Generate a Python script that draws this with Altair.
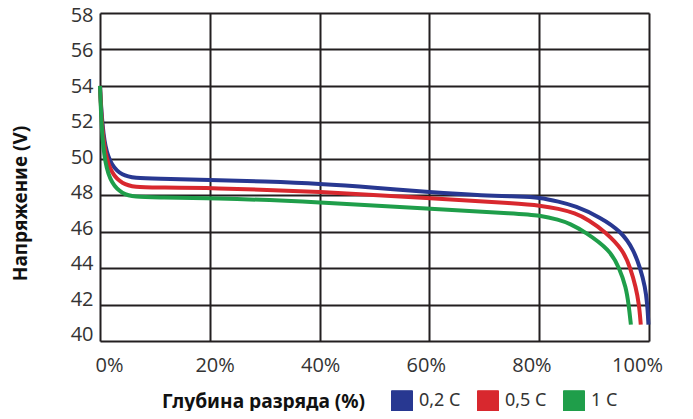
import altair as alt
import pandas as pd

series_names = ["0,2 C", "0,5 C", "1 C"]
series_colors = ["#283891", "#d8282e", "#1f9e4a"]

blue_x = [0, 0.3, 0.9, 2.1, 4, 6.4, 10, 20, 30, 40, 50, 60, 70, 76.5, 80, 83.6, 86.5, 91.1, 95.0, 97.2, 98.4, 99.3, 99.7, 99.9]
blue_y = [54, 52.3, 50.6, 49.63, 49.08, 48.94, 48.9, 48.85, 48.75, 48.63, 48.42, 48.17, 47.98, 47.93, 47.88, 47.65, 47.42, 46.8, 46.0, 45.0, 44.0, 42.97, 42.0, 40.9]

red_x = [0, 0.3, 0.9, 2.1, 4, 6.4, 10, 20, 40, 60, 76.5, 80, 83.6, 86.5, 89.0, 92.0, 95.3, 96.6, 97.6, 98.2, 98.5]
red_y = [54, 52.0, 50.27, 49.18, 48.63, 48.44, 48.42, 48.4, 48.2, 47.84, 47.53, 47.44, 47.26, 47.02, 46.65, 46.0, 45.0, 44.0, 42.97, 42.0, 40.9]

green_x = [0, 0.3, 0.9, 2.1, 4, 6.4, 10, 20, 40, 60, 76.5, 80, 83.6, 85.6, 88.3, 92.9, 94.6, 95.8, 96.3, 96.7]
green_y = [54, 51.55, 49.72, 48.63, 48.08, 47.9, 47.88, 47.86, 47.62, 47.26, 46.98, 46.9, 46.66, 46.44, 46.0, 45.0, 44.0, 42.97, 42.0, 40.9]

x_ticks = [0, 20, 40, 60, 80, 100]
y_ticks = [40, 42, 44, 46, 48, 50, 52, 54, 56, 58]

rows = []
for name, xs, ys in zip(series_names, [blue_x, red_x, green_x], [blue_y, red_y, green_y]):
    for i, (a, b) in enumerate(zip(xs, ys)):
        rows.append({"series": name, "dod": a, "v": b, "order": i})
df = pd.DataFrame(rows)

x_enc = alt.X("dod:Q", scale=alt.Scale(domain=[0, 100], nice=False),
              axis=alt.Axis(values=x_ticks, labelExpr="datum.value + '%'", title=None,
                            grid=True, gridColor="#231f20", gridWidth=2, domain=False, ticks=False,
                            labelFontSize=20, labelFont="Open Sans", labelColor="#333",
                            labelFlush=False, labelBound=False,
                            labelPadding=14, labelOffset={"expr": "9 - 0.21*datum.value"}))
y_enc = alt.Y("v:Q", scale=alt.Scale(domain=[40, 58], nice=False),
              axis=alt.Axis(values=y_ticks, title="Напряжение (V)", grid=True,
                            gridColor="#231f20", gridWidth=2, domain=False, ticks=False,
                            labelFontSize=20, labelFont="Open Sans", labelColor="#333",
                            labelFlush=False, labelBound=False,
                            labelPadding=7, labelOffset={"expr": "2 - (58 - datum.value)*0.45"},
                            titleFont="Noto Sans", titleFontSize=19,
                            titleFontWeight="bold", titleColor="#111",
                            titleX=-80, titleY=190, titleAlign="center", titleBaseline="middle"))
color_enc = alt.Color("series:N", scale=alt.Scale(domain=series_names, range=series_colors),
                      legend=alt.Legend(title="Глубина разряда (%)", orient="none",
                                        legendX=62, legendY=377, direction="horizontal",
                                        titleOrient="left", titleFont="Noto Sans",
                                        titleFontSize=19.2, titleFontWeight="bold",
                                        titleColor="#111", titlePadding=25,
                                        titleBaseline="middle", titleLimit=400,
                                        symbolType="square", symbolSize=441,
                                        symbolStrokeColor="#222", symbolStrokeWidth=1,
                                        symbolOpacity=1,
                                        labelFont="Noto Sans", labelFontSize=18,
                                        labelColor="#333", labelOffset=6,
                                        columnPadding=14))

base = alt.Chart(df)
legend_layer = base.mark_point(filled=True, shape="square", opacity=0).encode(
    x=x_enc, y=y_enc, fill=color_enc)
lines = base.mark_line(strokeWidth=4, interpolate="basis").encode(
    x=x_enc, y=y_enc,
    stroke=alt.Stroke("series:N", scale=alt.Scale(domain=series_names, range=series_colors), legend=None),
    order="order:Q")

chart = alt.layer(legend_layer, lines).properties(
    width=549, height=328,
    autosize=alt.AutoSizeParams(type="none"),
    padding={"left": 92, "top": 5, "right": 36, "bottom": 70},
).configure_view(stroke="#555", strokeWidth=2).configure(background="white")

chart.save("out.html", embed_options={"renderer": "svg", "actions": False})
